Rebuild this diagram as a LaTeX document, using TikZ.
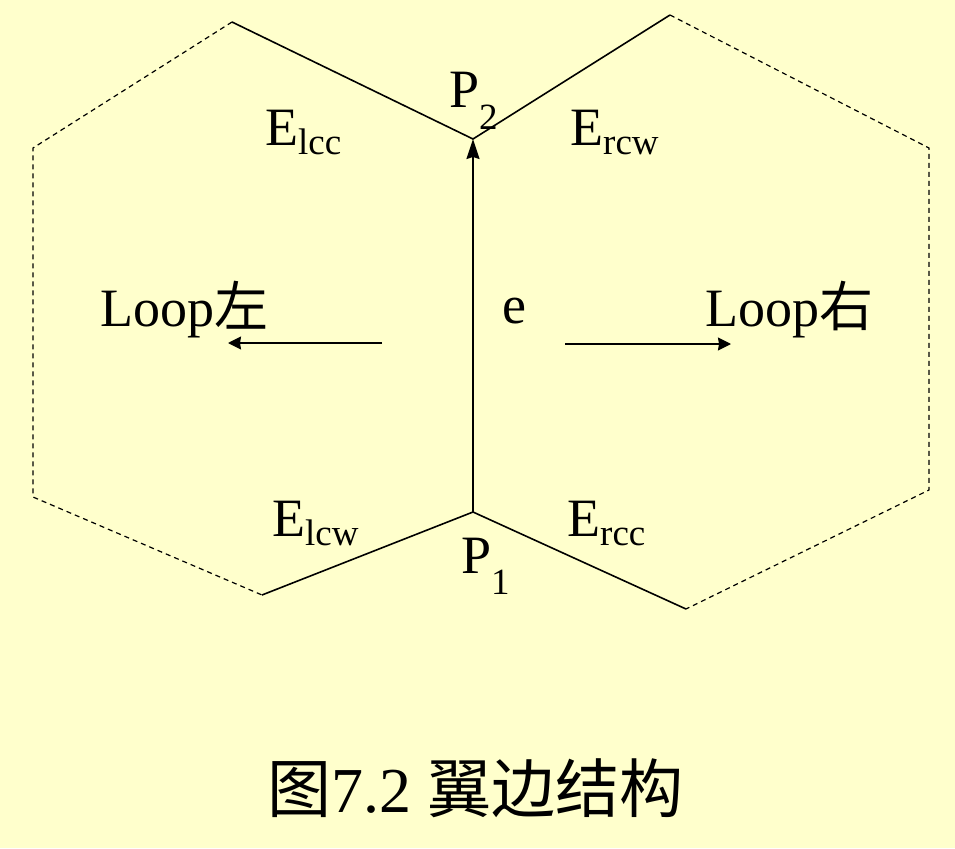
\documentclass[tikz,border=0pt]{standalone}
\usepackage{fontspec}
\setmainfont{Liberation Serif}
\newfontfamily\cjk{Noto Sans CJK SC}
\usetikzlibrary{arrows.meta}
\definecolor{bgyellow}{RGB}{255,255,204}
\newcommand{\lowtxt}[2][-0.17em]{\raisebox{#1}{\fontsize{37}{37}\selectfont #2}}
\tikzset{
  solidedge/.style={line width=1.6pt, black},
  dashedge/.style={line width=1.2pt, black, dash pattern=on 5pt off 4pt},
  bigtxt/.style={font=\fontsize{54}{54}\selectfont, inner sep=0pt, anchor=base west},
  looparrow/.style={line width=1.6pt, -{Stealth[length=13pt,width=13pt,inset=1pt]}},
}
\begin{document}
\begin{tikzpicture}[x=1pt,y=-1pt]
\fill[bgyellow] (0,0) rectangle (955,848);
\useasboundingbox (0,0) rectangle (955,848);
% vertices
\coordinate (P1) at (473,512);
\coordinate (P2) at (473,139);
\coordinate (LT) at (232,22);
\coordinate (LTL) at (33,148);
\coordinate (LBL) at (33,497);
\coordinate (LB) at (262,595);
\coordinate (RT) at (670,15);
\coordinate (RTR) at (929,148);
\coordinate (RBR) at (929,490);
\coordinate (RB) at (686,609);
% dashed hexagon parts
\draw[dashedge] (LT) -- (LTL) -- (LBL) -- (LB);
\draw[dashedge] (RT) -- (RTR) -- (RBR) -- (RB);
% solid wings
\draw[solidedge] (LT) -- (P2) -- (RT);
\draw[solidedge] (LB) -- (P1) -- (RB);
% edge e
\draw[solidedge, -{Stealth[length=20pt,width=13pt,inset=2pt]}] (P1) -- (P2);
% labels
\node[bigtxt] (elcc) at (265,145) {E\lowtxt{lcc}};
\node[bigtxt] (ercw) at (570,145) {E\lowtxt{rcw}};
\node[bigtxt] (elcw) at (272,536) {E\lowtxt{lcw}};
\node[bigtxt] (ercc) at (567,536) {E\lowtxt{rcc}};
\node[bigtxt] (p2) at (449,108) {P\lowtxt[-0.4em]{2}};
\node[bigtxt] (p1) at (461,573) {P\lowtxt[-0.4em]{1}};
\node[bigtxt] (e) at (502,323) {e};
\node[bigtxt] (loopl) at (100,326) {Loop{\cjk 左}};
\node[bigtxt] (loopr) at (705,326) {Loop{\cjk 右}};
% loop arrows
\coordinate (la1) at (382,343);
\coordinate (la2) at (228,343);
\coordinate (ra1) at (565,344);
\coordinate (ra2) at (731,344);
\draw[looparrow] (la1) -- (la2);
\draw[looparrow] (ra1) -- (ra2);
% caption
\node[font=\fontsize{64}{64}\selectfont, inner sep=0pt, anchor=base] (cap) at (475,812) {{\cjk 图}7.2 {\cjk 翼边结构}};
\end{tikzpicture}
\end{document}
